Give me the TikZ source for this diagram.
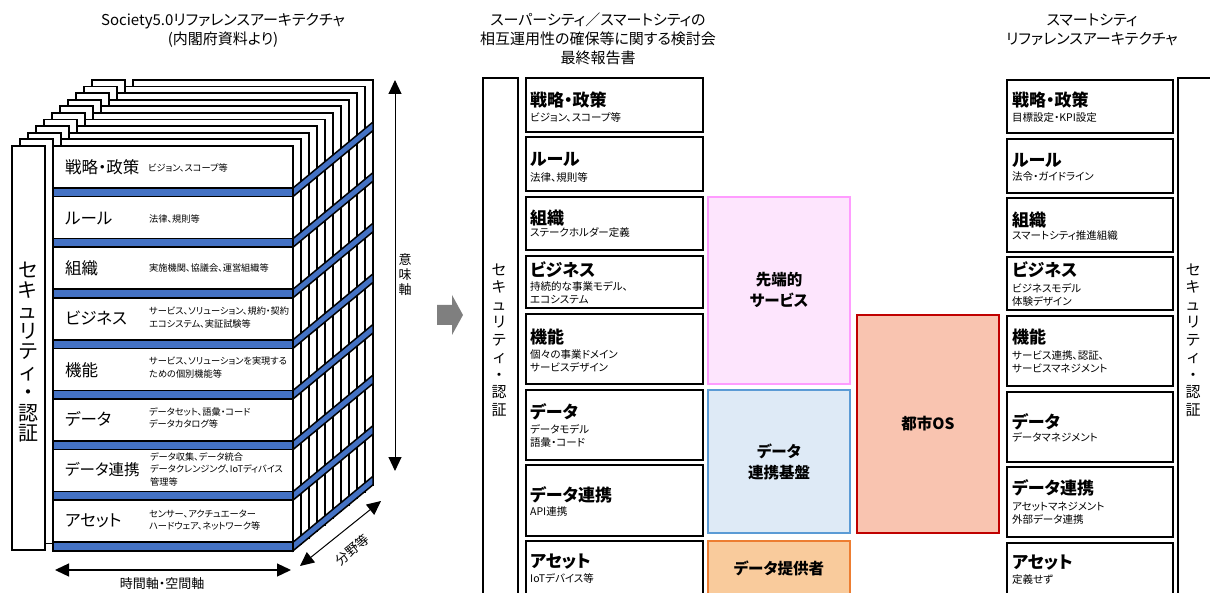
\documentclass[tikz,border=0pt]{standalone}
\usepackage{fontspec}
\setmainfont{Noto Sans CJK JP}[RawFeature=+palt]
\usetikzlibrary{arrows.meta}
\definecolor{bandblue}{HTML}{4472C4}
\definecolor{pinkfill}{HTML}{FDE5FD}
\definecolor{pinkdraw}{HTML}{FF9CFF}
\definecolor{bluefill}{HTML}{DEEAF6}
\definecolor{bluedraw}{HTML}{5B9BD5}
\definecolor{orfill}{HTML}{F9CB9C}
\definecolor{ordraw}{HTML}{ED7D31}
\definecolor{osfill}{HTML}{F9C4B0}
\definecolor{osdraw}{HTML}{C00000}
\definecolor{arrowgray}{HTML}{7F7F7F}
\begin{document}
\begin{tikzpicture}[x=1pt,y=-1pt,
  sheet/.style={draw=black, fill=white, line width=1.8pt},
  band/.style={draw=black, fill=bandblue, line width=1.5pt, line join=miter},
  box/.style={draw=black, fill=white, line width=2pt},
  big/.style={font=\fontsize{16.5}{19}\selectfont, anchor=west, inner sep=0pt},
  small/.style={font=\fontsize{9.2}{12.5}\selectfont, anchor=west, inner sep=0pt, align=left},
  ttl/.style={font=\bfseries\fontsize{17}{19}\selectfont, anchor=west, inner sep=0pt},
  dsc/.style={font=\fontsize{10.5}{13}\selectfont, anchor=west, inner sep=0pt, align=left},
  head/.style={font=\fontsize{15}{19}\selectfont, align=center, inner sep=0pt},
  midtext/.style={font=\bfseries\fontsize{15.5}{21}\selectfont, align=center, inner sep=0pt},
  axislbl/.style={font=\fontsize{13}{15}\selectfont, inner sep=0pt, align=center},
  axis/.style={line width=1pt, {Triangle[length=14pt,width=13pt]}-{Triangle[length=14pt,width=13pt]}}
]
\useasboundingbox (0,0) rectangle (1210,593);
\clip (0,0) rectangle (1210,593);

% ---------- titles ----------
\node[head] (t1) at (223,30.5) {Society5.0リファレンスアーキテクチャ\\(内閣府資料より)};
\node[head] (t2) at (598,39) {スーパーシティ／スマートシティの\\相互運用性の確保等に関する検討会\\最終報告書};
\node[head] (t3) at (1092,30) {スマートシティ\\リファレンスアーキテクチャ};

% ---------- left stacked sheets ----------
\foreach \k in {10,...,1} {
  \pgfmathsetmacro\dx{8*\k}
  \pgfmathsetmacro\dy{6.6*\k}
  \draw[sheet] (12+\dx,146-\dy) rectangle (45+\dx,550-\dy);
  \draw[sheet] (53+\dx,146-\dy) rectangle (293+\dx,551-\dy);
}
\foreach \i in {0,...,7} {
  \pgfmathsetmacro\ya{146+50.6*\i+42}
  \pgfmathsetmacro\yb{146+50.6*(\i+1)}
  \draw[band] (293,\ya) -- (373,\ya-66) -- (373,\yb-66) -- (293,\yb) -- cycle;
}
\draw[sheet] (53,146) rectangle (293,551);
\foreach \i in {0,...,7} {
  \pgfmathsetmacro\ya{146+50.6*\i+42}
  \pgfmathsetmacro\yb{146+50.6*(\i+1)}
  \draw[band] (53,\ya) rectangle (293,\yb);
}
\draw[sheet] (12,146) rectangle (45,550);
\node[inner sep=0pt, align=center, font=\fontsize{20}{20.4}\selectfont] (lsec) at (28,352)
  {セ\\キ\\ュ\\リ\\テ\\ィ\\・\\認\\証};

\node[big] (l1) at (65,167) {戦略・政策};
\node[small] (l1d) at (148,168) {ビジョン、スコープ等};
\node[big] (l2) at (65,219) {ルール};
\node[small] (l2d) at (149,219) {法律、規則等};
\node[big] (l3) at (65,268) {組織};
\node[small] (l3d) at (149,268) {実施機関、協議会、運営組織等};
\node[big] (l4) at (65,318) {ビジネス};
\node[small] (l4d) at (149,317.5) {サービス、ソリューション、規約・契約\\エコシステム、実証試験等};
\node[big] (l5) at (65,370) {機能};
\node[small] (l5d) at (149,367.5) {サービス、ソリューションを実現する\\ための個別機能等};
\node[big] (l6) at (65,419) {データ};
\node[small] (l6d) at (149,418) {データセット、語彙・コード\\データカタログ等};
\node[big, font=\fontsize{15.5}{19}\selectfont] (l7) at (65,470) {データ連携};
\node[small] (l7d) at (150,469) {データ収集、データ統合\\データクレンジング、IoTディバイス\\管理等};
\node[big] (l8) at (65,521) {アセット};
\node[small] (l8d) at (149,520) {センサー、アクチュエーター\\ハードウェア、ネットワーク等};

% axes
\coordinate (vtop) at (395,80);
\coordinate (vbot) at (395,471);
\draw[axis] (vtop) -- (vbot);
\node[axislbl] (imi) at (405,275) {意\\味\\軸};
\coordinate (hl) at (55,570);
\coordinate (hr) at (291,570);
\draw[axis, line width=1.3pt] (hl) -- (hr);
\node[axislbl] (jikan) at (162,584) {時間軸・空間軸};
\coordinate (dl) at (300,566);
\coordinate (dr) at (381,501);
\draw[axis] (dl) -- (dr);
\node[axislbl, rotate=40] (bunya) at (352,550) {分野等};

% big gray arrow
\fill[arrowgray] (437,305) -- (452,305) -- (452,295) -- (463,315) -- (452,335) -- (452,325) -- (437,325) -- cycle;

% ---------- middle column ----------
\draw[box] (483,78) rectangle (518,620);
\node[inner sep=0pt, align=center, font=\fontsize{15}{17.5}\selectfont] (msec) at (499,340)
  {セ\\キ\\ュ\\リ\\テ\\ィ\\・\\認\\証};

\draw[box] (526,78) rectangle (703,132);
\node[ttl] (m1) at (530,100) {戦略・政策};
\node[dsc] (m1d) at (530,117) {ビジョン、スコープ等};
\draw[box] (526,137) rectangle (703,191);
\node[ttl] (m2) at (530,159) {ルール};
\node[dsc] (m2d) at (530,177) {法律、規則等};
\draw[box] (526,197) rectangle (703,250);
\node[ttl] (m3) at (530,218) {組織};
\node[dsc] (m3d) at (530,233) {ステークホルダー定義};
\draw[box] (526,256) rectangle (703,308);
\node[ttl] (m4) at (530,270) {ビジネス};
\node[dsc] (m4d) at (530,292.5) {持続的な事業モデル、\\エコシステム};
\draw[box] (526,314) rectangle (703,384);
\node[ttl] (m5) at (530,337) {機能};
\node[dsc] (m5d) at (530,360.5) {個々の事業ドメイン\\サービスデザイン};
\draw[box] (526,390) rectangle (703,460);
\node[ttl] (m6) at (530,412) {データ};
\node[dsc] (m6d) at (530,435.5) {データモデル\\語彙・コード};
\draw[box] (526,465) rectangle (703,536);
\node[ttl] (m7) at (530,495) {データ連携};
\node[dsc] (m7d) at (530,512) {API連携};
\draw[box] (526,541) rectangle (703,620);
\node[ttl] (m8) at (530,562) {アセット};
\node[dsc] (m8d) at (530,578) {IoTデバイス等};

% coloured blocks
\draw[fill=pinkfill, draw=pinkdraw, line width=2pt] (708,197) rectangle (850,384);
\node[midtext] (sentan) at (779,290) {先端的\\サービス};
\draw[fill=bluefill, draw=bluedraw, line width=2pt] (708,390) rectangle (850,533);
\node[midtext] (renkei) at (779,462) {データ\\連携基盤};
\draw[fill=orfill, draw=ordraw, line width=2pt] (708,541) rectangle (850,620);
\node[midtext] (teikyo) at (779,568) {データ提供者};
\draw[fill=osfill, draw=osdraw, line width=2.5pt] (857,315) rectangle (999,533);
\node[midtext] (cityos) at (928,424) {都市OS};

% ---------- right column ----------
\draw[box] (1178,78) rectangle (1240,620);
\node[inner sep=0pt, align=center, font=\fontsize{15}{17.5}\selectfont] (rsec) at (1193,340)
  {セ\\キ\\ュ\\リ\\テ\\ィ\\・\\認\\証};

\draw[box] (1007,80) rectangle (1173,133);
\node[ttl] (r1) at (1012,100) {戦略・政策};
\node[dsc] (r1d) at (1012,118) {目標設定・KPI設定};
\draw[box] (1007,139) rectangle (1173,193);
\node[ttl] (r2) at (1012,160) {ルール};
\node[dsc] (r2d) at (1012,177) {法令・ガイドライン};
\draw[box] (1007,198) rectangle (1173,252);
\node[ttl] (r3) at (1012,220) {組織};
\node[dsc] (r3d) at (1012,236) {スマートシティ推進組織};
\draw[box] (1007,257) rectangle (1173,310);
\node[ttl] (r4) at (1012,270) {ビジネス};
\node[dsc] (r4d) at (1012,295) {ビジネスモデル\\体験デザイン};
\draw[box] (1007,316) rectangle (1173,386);
\node[ttl] (r5) at (1012,337) {機能};
\node[dsc] (r5d) at (1012,361.5) {サービス連携、認証、\\サービスマネジメント};
\draw[box] (1007,392) rectangle (1173,462);
\node[ttl] (r6) at (1012,422) {データ};
\node[dsc] (r6d) at (1012,437) {データマネジメント};
\draw[box] (1007,467) rectangle (1173,537);
\node[ttl] (r7) at (1012,488) {データ連携};
\node[dsc] (r7d) at (1012,513) {アセットマネジメント\\外部データ連携};
\draw[box] (1007,543) rectangle (1173,620);
\node[ttl] (r8) at (1012,563) {アセット};
\node[dsc] (r8d) at (1012,580) {定義せず};
\end{tikzpicture}
\end{document}
